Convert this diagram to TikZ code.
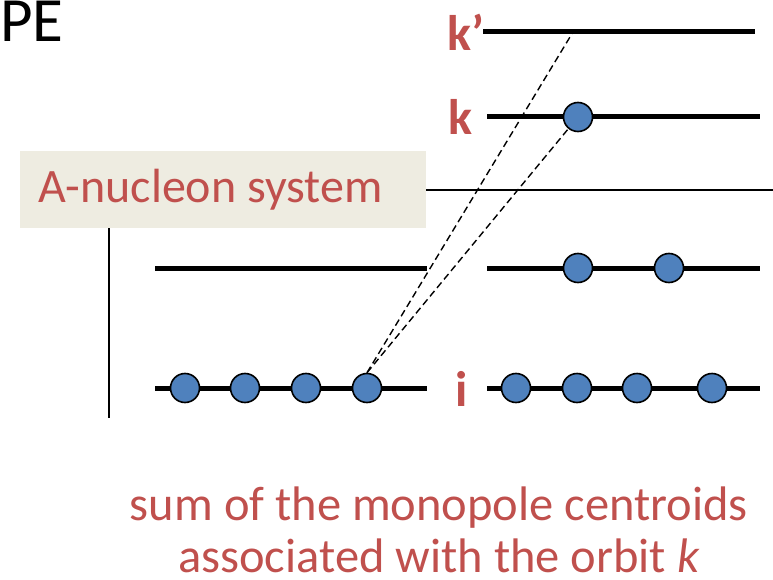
\documentclass[tikz,border=0pt]{standalone}
\usepackage{fontspec}
\setmainfont{Carlito}
\definecolor{ored}{HTML}{C0504D}
\definecolor{oblue}{HTML}{4F81BD}
\definecolor{obeige}{HTML}{EEECE1}
\tikzset{
  level/.style={line width=5pt},
  thin/.style={line width=1.8pt},
  orb/.style={circle,draw=black,line width=1.6pt,fill=oblue,minimum size=29pt,inner sep=0pt},
  dashln/.style={line width=1.4pt,dash pattern=on 7pt off 4pt},
  lab/.style={text=ored,font=\bfseries\fontsize{50}{56}\selectfont,inner sep=0pt},
}
\begin{document}
\begin{tikzpicture}[x=1pt,y=-1pt]
\useasboundingbox (0,0) rectangle (773,580);
% box
\node[fill=obeige,minimum width=406pt,minimum height=77pt,inner sep=0pt,anchor=north west] (box) at (20,151) {};
\node[text=ored,font=\fontsize{48}{54}\selectfont,anchor=west,inner sep=0pt] (boxtxt) at (38,190) {A-nucleon system};
\coordinate (hl) at (773,190);
\draw[thin] (box.east |- hl) -- (hl);
\coordinate (vb) at (109,418);
\draw[thin] (box.south -| vb) -- (vb);
% PE
\node[font=\fontsize{63}{68}\selectfont,anchor=base west,inner sep=0pt] (pe) at (0,42) {PE};
% levels
\coordinate (kpa) at (483,32); \coordinate (kpb) at (755,32);
\coordinate (ka) at (487,117); \coordinate (kb) at (760,117);
\coordinate (ma) at (155,268); \coordinate (mb) at (427,268);
\coordinate (mc) at (487,268); \coordinate (md) at (760,268);
\coordinate (ia) at (155,388); \coordinate (ib) at (427,388);
\coordinate (ic) at (487,388); \coordinate (id) at (760,388);
\draw[level] (kpa) -- (kpb);
\draw[level] (ka) -- (kb);
\draw[level] (ma) -- (mb);
\draw[level] (mc) -- (md);
\draw[level] (ia) -- (ib);
\draw[level] (ic) -- (id);
% labels
\node[lab] (kplab) at (466,32) {k’};
\node[lab] (klab) at (460,117) {k};
\node[lab] (ilab) at (462,389) {i};
% orbitals
\node[orb] (kc) at (578,117) {};
\node[orb] (m1) at (578,268) {};
\node[orb] (m2) at (669,268) {};
\node[orb] (l1) at (185,388) {};
\node[orb] (l2) at (245,388) {};
\node[orb] (l3) at (306,388) {};
\node[orb] (l4) at (367,388) {};
\node[orb] (r1) at (516,388) {};
\node[orb] (r2) at (577,388) {};
\node[orb] (r3) at (637,388) {};
\node[orb] (r4) at (712,388) {};
% dashed
\coordinate (kpend) at (573,32);
\draw[dashln] (l4.north) -- (kpend);
\draw[dashln] (l4.north) -- (kc);
% bottom text
\node[text=ored,font=\fontsize{48.5}{52}\selectfont,align=center,inner sep=0pt] (cap) at (439,530) {sum of the monopole centroids\\associated with the orbit \textit{k}};
\end{tikzpicture}
\end{document}
